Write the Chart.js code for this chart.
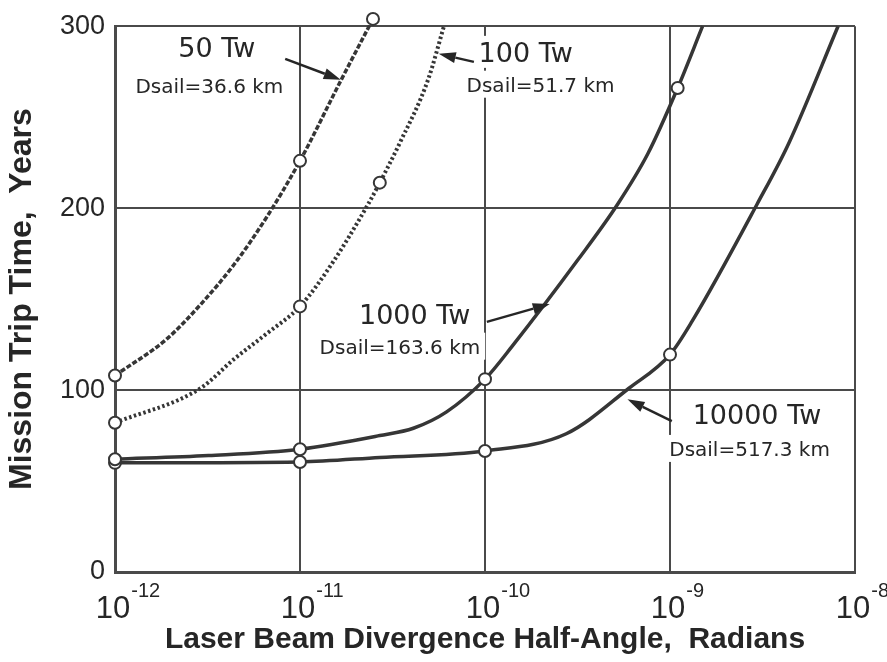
<!DOCTYPE html>
<html>
<head>
<meta charset="utf-8">
<script src="https://cdn.jsdelivr.net/npm/chart.js@4.4.1/dist/chart.umd.min.js"></script>
<style>
  html, body { margin: 0; padding: 0; background: #fff; }
  canvas { display: block; }
</style>
</head>
<body>
<canvas id="chart" width="887" height="662"></canvas>
<script>
// axis ticks
const xTicks = [1e-12, 1e-11, 1e-10, 1e-9, 1e-8];
const yTicks = [0, 100, 200, 300];

// 50 Tw, Dsail = 36.6 km (dashed)
const tw50X = [1e-12, 1.9e-12, 2.9e-12, 4.4e-12, 6.6e-12, 1e-11, 1.66e-11, 2.48e-11];
const tw50Y = [108, 128, 147, 169, 195, 226, 270, 304];
const tw50Mark = [1, 0, 0, 0, 0, 1, 0, 1];

// 100 Tw, Dsail = 51.7 km (dotted)
const tw100X = [1e-12, 2.9e-12, 4.4e-12, 6.6e-12, 1e-11, 1.5e-11, 2.3e-11, 2.7e-11, 3.47e-11, 4.9e-11, 6.0e-11];
const tw100Y = [82, 101, 117, 131, 146, 170, 201, 214, 236, 270, 300];
const tw100Mark = [1, 0, 0, 0, 1, 0, 0, 1, 0, 0, 0];

// 1000 Tw, Dsail = 163.6 km
const tw1000X = [1e-12, 3.2e-12, 1e-11, 2.7e-11, 4.1e-11, 6.2e-11, 1e-10, 1.4e-10, 3.2e-10, 5.2e-10, 7.6e-10, 1.1e-9, 1.5e-9];
const tw1000Y = [62, 64, 67.5, 75, 79, 88, 106, 124, 172, 202, 230, 266, 300];
const tw1000Mark = [1, 0, 1, 0, 0, 0, 1, 0, 0, 0, 0, 1, 0];

// 10000 Tw, Dsail = 517.3 km
const tw10000X = [1e-12, 1e-11, 2.7e-11, 1e-10, 2.75e-10, 6.0e-10, 1e-9, 1.32e-9, 2.95e-9, 4.4e-9, 8.1e-9];
const tw10000Y = [60, 60.5, 63, 66.5, 76, 101, 119.5, 138, 202, 236, 300];
const tw10000Mark = [1, 1, 0, 1, 0, 0, 1, 0, 0, 0, 0];

// curve labels: [log10 x, y, text, font, mask]
const labels = [
  [-11.45, 283, '50 Tw', '27px "DejaVu Sans"', false],
  [-11.49, 263.5, 'Dsail=36.6 km', '20px "DejaVu Sans"', false],
  [-9.78, 280.4, '100 Tw', '27px "DejaVu Sans"', true],
  [-9.70, 264, 'Dsail=51.7 km', '20px "DejaVu Sans"', true],
  [-10.38, 136.4, '1000 Tw', '27px "DejaVu Sans"', false],
  [-10.46, 120, 'Dsail=163.6 km', '20px "DejaVu Sans"', true],
  [-8.53, 81.3, '10000 Tw', '27px "DejaVu Sans"', false],
  [-8.57, 63.8, 'Dsail=517.3 km', '20px "DejaVu Sans"', true]
];

// arrows: [from log10 x, from y, to log10 x, to y]
const arrows = [
  [-11.08, 282, -10.78, 270.6],
  [-10.06, 280.4, -10.25, 284.8],
  [-9.99, 137.5, -9.65, 147.3],
  [-8.99, 82.9, -9.23, 94.9]
];

const ink = '#262626';
const lineColor = '#363636';
const gridColor = '#4a4a4a';

function toPoints(xs, ys) {
  return xs.map((x, i) => ({ x: x, y: ys[i] }));
}

function makeSeries(name, xs, ys, marks, dash, width) {
  return {
    label: name,
    data: toPoints(xs, ys),
    borderColor: lineColor,
    borderWidth: width,
    borderDash: dash,
    borderCapStyle: 'butt',
    cubicInterpolationMode: 'monotone',
    pointRadius: marks.map(m => m ? 6 : 0),
    pointHoverRadius: 0,
    pointBorderWidth: 2,
    pointBorderColor: lineColor,
    pointBackgroundColor: '#fff',
    clip: false
  };
}

const curveLabels = {
  id: 'curveLabels',
  beforeDatasetsDraw(chart) {
    const { ctx, scales: { x, y } } = chart;
    ctx.save();
    ctx.textAlign = 'center';
    ctx.textBaseline = 'alphabetic';
    labels.forEach(([lx, ly, text, font, mask]) => {
      const px = x.getPixelForValue(Math.pow(10, lx));
      const py = y.getPixelForValue(ly);
      ctx.font = font;
      if (mask) {
        const m = ctx.measureText(text);
        ctx.fillStyle = '#fff';
        ctx.fillRect(px - m.width / 2 - 5, py - m.actualBoundingBoxAscent - 6,
          m.width + 10, m.actualBoundingBoxAscent + m.actualBoundingBoxDescent + 12);
      }
      ctx.fillStyle = ink;
      ctx.fillText(text, px, py);
    });
    ctx.restore();
  },
  afterDatasetsDraw(chart) {
    const { ctx, scales: { x, y } } = chart;
    ctx.save();
    ctx.strokeStyle = ink;
    ctx.fillStyle = ink;
    ctx.lineWidth = 2.5;
    arrows.forEach(([fx, fy, tx, ty]) => {
      const x0 = x.getPixelForValue(Math.pow(10, fx)), y0 = y.getPixelForValue(fy);
      const x1 = x.getPixelForValue(Math.pow(10, tx)), y1 = y.getPixelForValue(ty);
      const a = Math.atan2(y1 - y0, x1 - x0);
      const len = 17, half = 5.5;
      const bx = x1 - len * Math.cos(a), by = y1 - len * Math.sin(a);
      ctx.beginPath();
      ctx.moveTo(x0, y0);
      ctx.lineTo(bx, by);
      ctx.stroke();
      ctx.beginPath();
      ctx.moveTo(x1, y1);
      ctx.lineTo(bx + half * Math.sin(a), by - half * Math.cos(a));
      ctx.lineTo(bx - half * Math.sin(a), by + half * Math.cos(a));
      ctx.closePath();
      ctx.fill();
    });
    ctx.restore();
  },
  afterDraw(chart) {
    // powers of ten under the x axis
    const { ctx, scales: { x } } = chart;
    ctx.save();
    ctx.fillStyle = ink;
    ctx.textBaseline = 'alphabetic';
    xTicks.forEach(v => {
      const px = x.getPixelForValue(v);
      const exp = Math.round(Math.log10(v));
      ctx.font = '31px "Liberation Sans"';
      ctx.textAlign = 'center';
      ctx.fillText('10', px - 2, 618);
      const w = ctx.measureText('10').width;
      ctx.font = '20px "Liberation Sans"';
      ctx.textAlign = 'left';
      ctx.fillText(String(exp), px - 2 + w / 2 + 1, 597);
    });
    ctx.restore();
  }
};

new Chart(document.getElementById('chart'), {
  type: 'line',
  data: {
    datasets: [
      makeSeries('50 Tw', tw50X, tw50Y, tw50Mark, [5, 2], 3.5),
      makeSeries('100 Tw', tw100X, tw100Y, tw100Mark, [2.5, 2.5], 4),
      makeSeries('1000 Tw', tw1000X, tw1000Y, tw1000Mark, [], 3.5),
      makeSeries('10000 Tw', tw10000X, tw10000Y, tw10000Mark, [], 3.5)
    ]
  },
  options: {
    responsive: false,
    animation: false,
    layout: { padding: { top: 22, right: 32, left: 0, bottom: 0 } },
    plugins: {
      legend: { display: false },
      tooltip: { enabled: false }
    },
    scales: {
      x: {
        type: 'logarithmic',
        min: 1e-12,
        max: 1e-8,
        afterBuildTicks: scale => { scale.ticks = xTicks.map(v => ({ value: v })); },
        afterFit: scale => { scale.height = 90; },
        ticks: { callback: () => '' },
        grid: { color: gridColor, lineWidth: 2, drawTicks: false },
        border: { color: gridColor, width: 3 },
        title: {
          display: true,
          text: 'Laser Beam Divergence Half-Angle,  Radians',
          color: ink,
          font: { family: 'Liberation Sans', size: 30, weight: 'bold' },
          padding: { top: 0, bottom: 4 }
        }
      },
      y: {
        min: 0,
        max: 300,
        afterBuildTicks: scale => { scale.ticks = yTicks.map(v => ({ value: v })); },
        afterFit: scale => { scale.width = 115; },
        ticks: {
          color: ink,
          padding: 10,
          font: { family: 'Liberation Sans', size: 27 }
        },
        grid: { color: gridColor, lineWidth: 2, drawTicks: false },
        border: { color: gridColor, width: 3 },
        title: {
          display: true,
          text: 'Mission Trip Time,  Years',
          color: ink,
          font: { family: 'Liberation Sans', size: 32, weight: 'bold' },
          padding: { top: 3, bottom: 0 }
        }
      }
    }
  },
  plugins: [curveLabels]
});
</script>
</body>
</html>
